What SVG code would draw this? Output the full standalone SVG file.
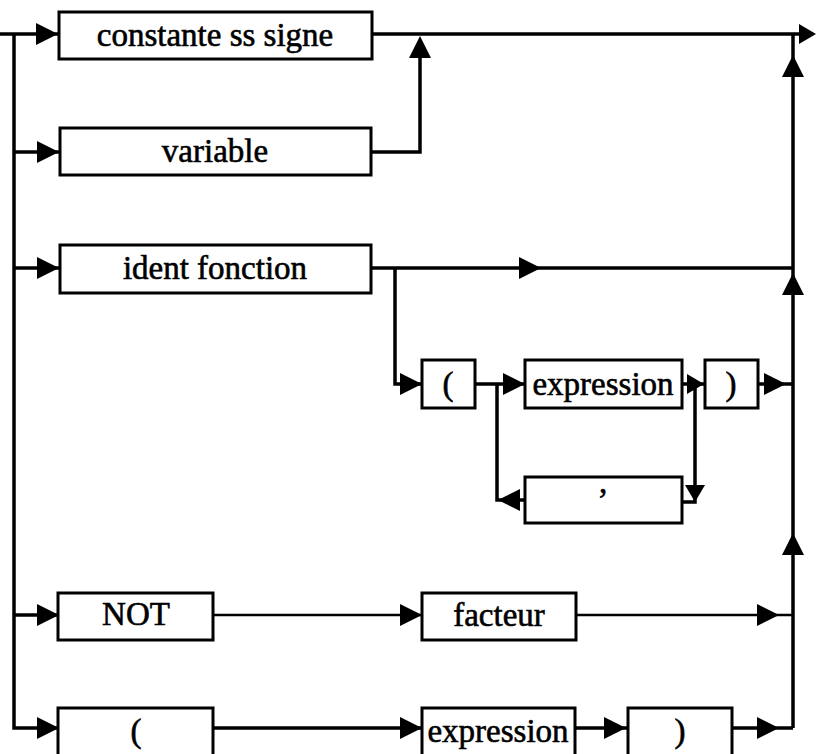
<svg xmlns="http://www.w3.org/2000/svg" xmlns:xlink="http://www.w3.org/1999/xlink" width="816" height="754" viewBox="0 0 816 754">
<style>
.box{fill:#fff;stroke:#000;stroke-width:3}
.lbl{font-family:"Liberation Serif","Times New Roman",serif;font-size:33px;fill:#000;stroke:#000;stroke-width:0.6;text-anchor:middle}
.ln{fill:none;stroke:#000;stroke-width:3.5;stroke-linejoin:miter}
.thin{fill:none;stroke:#000;stroke-width:2.5}
.ah{fill:#000}
</style>
<defs>
<path id="ah" d="M0,0 L-22,-11 L-22,11 Z"/>
<path id="ahs" d="M0,0 L-17,-10 L-17,10 Z"/>
</defs>
<rect width="816" height="754" fill="#fff"/>
<g id="connectors">
<path class="ln" d="M0,34 H58 M372,34 H802"/>
<path class="ln" d="M14,34 V728 H59 M14,152 H59 M14,268 H59 M14,615 H59"/>
<path class="ln" d="M371,152 H420 V40"/>
<path class="ln" d="M371,268 H793 M395,268 V384 H422"/>
<path class="ln" d="M475,384 H525 M682,384 H705 M758,384 H793"/>
<path class="ln" d="M497,384 V500 H525 M682,502 H695 V384"/>
<path class="ln" d="M793,34 V728"/>
<path class="thin" d="M213,615 H422 M576,615 H793"/>
<path class="ln" d="M213,728 H422 M575,728 H628 M732,728 H793"/>
<g class="ah">
<use xlink:href="#ah" transform="translate(58,34)"/>
<use xlink:href="#ah" transform="translate(59,152)"/>
<use xlink:href="#ah" transform="translate(59,268)"/>
<use xlink:href="#ah" transform="translate(541,268)"/>
<use xlink:href="#ah" transform="translate(422,384)"/>
<use xlink:href="#ah" transform="translate(525,384)"/>
<use xlink:href="#ahs" transform="translate(704,384)"/>
<use xlink:href="#ah" transform="translate(786,384)"/>
<use xlink:href="#ah" transform="translate(59,615)"/>
<use xlink:href="#ah" transform="translate(422,615)"/>
<use xlink:href="#ah" transform="translate(779,615)"/>
<use xlink:href="#ah" transform="translate(59,728)"/>
<use xlink:href="#ah" transform="translate(422,728)"/>
<use xlink:href="#ah" transform="translate(626,728)"/>
<use xlink:href="#ah" transform="translate(779,728)"/>
<use xlink:href="#ahs" transform="translate(816,34)"/>
<use xlink:href="#ah" transform="translate(420,36) rotate(-90)"/>
<use xlink:href="#ah" transform="translate(793,55) rotate(-90)"/>
<use xlink:href="#ah" transform="translate(793,273) rotate(-90)"/>
<use xlink:href="#ah" transform="translate(793,533) rotate(-90)"/>
<use xlink:href="#ahs" transform="translate(695,502) rotate(90)"/>
<use xlink:href="#ah" transform="translate(498,500) rotate(180)"/>
</g>
</g>
<g id="n-constante"><rect class="box" x="59" y="12" width="313" height="47"/><text class="lbl" x="215" y="46">constante ss signe</text></g>
<g id="n-variable"><rect class="box" x="60" y="128" width="311" height="47"/><text class="lbl" x="215" y="162">variable</text></g>
<g id="n-ident"><rect class="box" x="60" y="245" width="311" height="48"/><text class="lbl" x="215" y="279">ident fonction</text></g>
<g id="n-lpar1"><rect class="box" x="422" y="360" width="53" height="48"/><text class="lbl" x="448" y="395">(</text></g>
<g id="n-expr1"><rect class="box" x="525" y="360" width="157" height="48"/><text class="lbl" x="603" y="395">expression</text></g>
<g id="n-rpar1"><rect class="box" x="705" y="360" width="53" height="48"/><text class="lbl" x="731" y="395">)</text></g>
<g id="n-comma"><rect class="box" x="525" y="477" width="157" height="46"/><text class="lbl" x="603" y="493">,</text></g>
<g id="n-not"><rect class="box" x="58" y="593" width="155" height="47"/><text class="lbl" x="136" y="625">NOT</text></g>
<g id="n-facteur"><rect class="box" x="422" y="593" width="154" height="47"/><text class="lbl" x="499" y="626">facteur</text></g>
<g id="n-lpar2"><rect class="box" x="58" y="708" width="155" height="48"/><text class="lbl" x="136" y="742">(</text></g>
<g id="n-expr2"><rect class="box" x="422" y="708" width="153" height="48"/><text class="lbl" x="498" y="742">expression</text></g>
<g id="n-rpar2"><rect class="box" x="628" y="708" width="104" height="48"/><text class="lbl" x="680" y="742">)</text></g>
</svg>
